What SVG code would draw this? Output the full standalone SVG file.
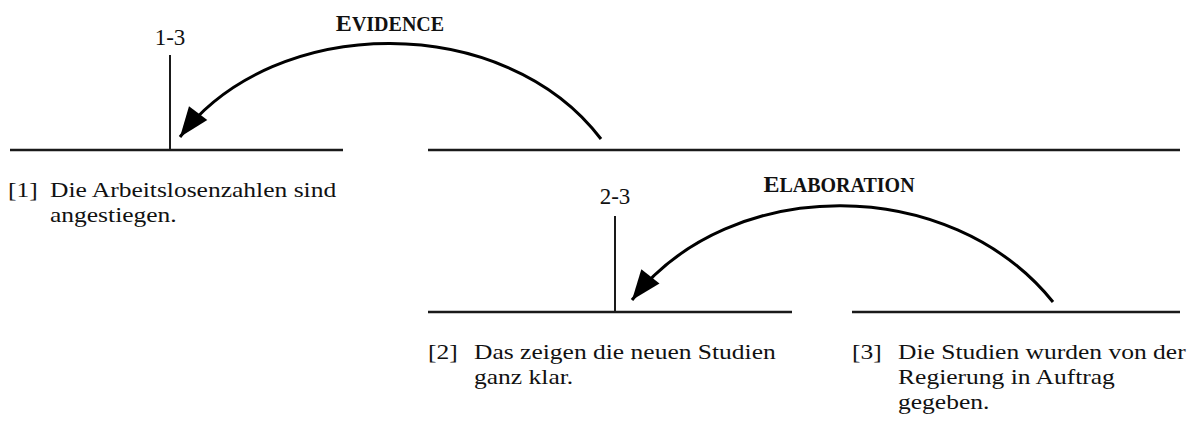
<svg xmlns="http://www.w3.org/2000/svg" width="1192" height="421" viewBox="0 0 1192 421">
<style>
  .ln { stroke:#1a1a1a; stroke-width:2.5; fill:none; }
  .vl { stroke:#1a1a1a; stroke-width:2; fill:none; }
  .arc { stroke:#000; stroke-width:3; fill:none; marker-end:url(#ah); }
  .t { font-family:"Liberation Serif","Times New Roman",serif; font-size:22px; fill:#111; }
  .lab { font-family:"Liberation Serif","Times New Roman",serif; font-size:23px; fill:#111; text-anchor:middle; }
  .rel { font-family:"Liberation Serif","Times New Roman",serif; font-weight:bold; font-size:20px; fill:#111; text-anchor:middle; }
  .cap { font-size:24px; }
</style>
<defs>
  <marker id="ah" markerUnits="userSpaceOnUse" markerWidth="34" markerHeight="28" viewBox="-32 -14 34 28" refX="0" refY="0" orient="auto">
    <path d="M0,0 L-30,-11.5 L-30,11.5 Z" fill="#000"/>
  </marker>
</defs>
<g id="nodes">
  <g id="span-1-3">
    <line class="ln" x1="10" y1="150" x2="343" y2="150"/>
    <line class="vl" x1="170" y1="55" x2="170" y2="150"/>
    <text class="lab" x="170" y="45">1-3</text>
  </g>
  <g id="span-2-3-top">
    <line class="ln" x1="428" y1="150" x2="1180" y2="150"/>
  </g>
  <g id="unit-1" transform="translate(8,0) scale(1.16,1)">
    <text class="t" x="0" y="197">[1]</text>
    <text class="t" x="36.2" y="197">Die Arbeitslosenzahlen sind</text>
    <text class="t" x="36.2" y="222">angestiegen.</text>
  </g>
  <g id="span-2-3">
    <line class="ln" x1="428" y1="312" x2="792" y2="312"/>
    <line class="vl" x1="615" y1="216" x2="615" y2="312"/>
    <text class="lab" x="615" y="204">2-3</text>
  </g>
  <g id="unit-2" transform="translate(428,0) scale(1.16,1)">
    <text class="t" x="0" y="359">[2]</text>
    <text class="t" x="39.7" y="359">Das zeigen die neuen Studien</text>
    <text class="t" x="39.7" y="384">ganz klar.</text>
  </g>
  <g id="unit-3">
    <line class="ln" x1="852" y1="312" x2="1180" y2="312"/>
    <g transform="translate(852,0) scale(1.16,1)">
      <text class="t" x="0" y="359">[3]</text>
      <text class="t" x="39.7" y="359">Die Studien wurden von der</text>
      <text class="t" x="39.7" y="384">Regierung in Auftrag</text>
      <text class="t" x="39.7" y="409">gegeben.</text>
    </g>
  </g>
</g>
<g id="connectors">
  <path class="arc" d="M601,139 C505,12 275,12 180,137"/>
  <text class="rel" x="390" y="31"><tspan class="cap">E</tspan>VIDENCE</text>
  <path class="arc" d="M1053,302 C950,174 730,174 632,300"/>
  <text class="rel" x="839" y="192"><tspan class="cap">E</tspan>LABORATION</text>
</g>
</svg>
